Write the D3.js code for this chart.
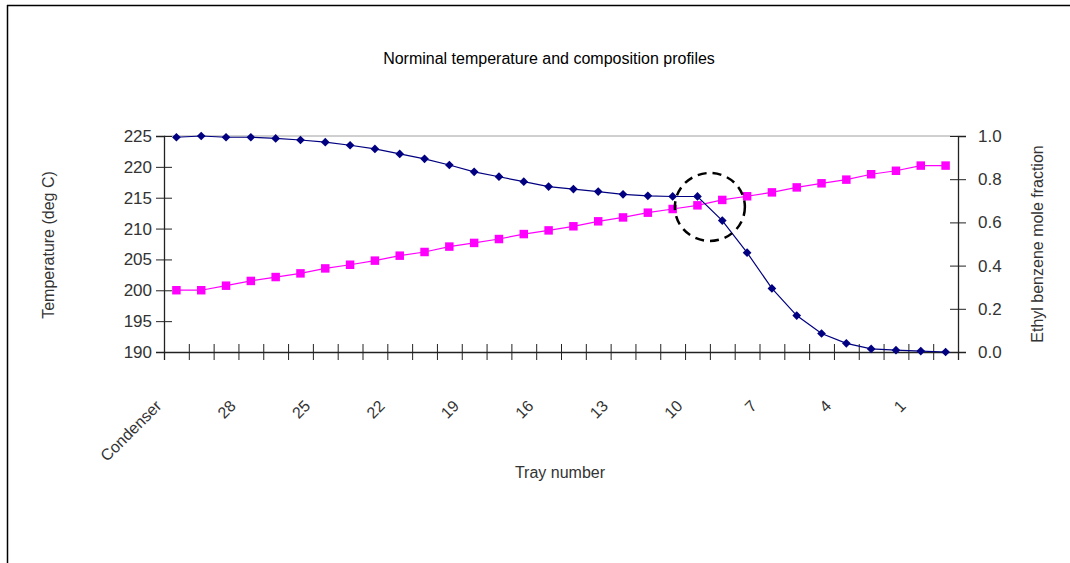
<!DOCTYPE html>
<meta charset="utf-8">
<style>
  body { margin: 0; background: #fff; }
  text { font-family: "Liberation Sans", Arial, sans-serif; }
</style>
<body>
<script src="https://cdn.jsdelivr.net/npm/d3@7"></script>
<script>

// Tray order, top of column to bottom
var trays = ["Condenser"].concat(d3.range(30, 0, -1).map(String)).concat(["Reboiler"]);

// Temperature profile (deg C)
var temperature = [224.8, 225.0, 224.8, 224.8, 224.6, 224.35, 224.0, 223.5, 222.9, 222.1,
                   221.3, 220.3, 219.2, 218.4, 217.6, 216.8, 216.4, 216.0, 215.55, 215.3,
                   215.2, 215.2, 211.3, 206.1, 200.3, 195.9, 193.0, 191.4, 190.5, 190.3,
                   190.15, 190.0];

// Ethyl benzene mole fraction
var ebFraction = [0.286, 0.286, 0.307, 0.329, 0.347, 0.364, 0.387, 0.404, 0.423, 0.446,
                  0.463, 0.488, 0.505, 0.523, 0.546, 0.563, 0.582, 0.605, 0.623, 0.645,
                  0.662, 0.679, 0.704, 0.721, 0.739, 0.762, 0.781, 0.798, 0.823, 0.839,
                  0.863, 0.863];

var tempTicks = [190, 195, 200, 205, 210, 215, 220, 225];
var fracTicks = [0, 0.2, 0.4, 0.6, 0.8, 1.0];
var labelledTrays = trays.filter(function(d, i) { return i % 3 === 0 && i < 31; });

var width = 1070, height = 563;
var plot = {left: 164, right: 958, top: 136, bottom: 352};

var svg = d3.select("body").append("svg")
    .attr("width", width)
    .attr("height", height);

// frame lines
svg.append("line").attr("x1", 7).attr("x2", 1070).attr("y1", 5.5).attr("y2", 5.5)
    .attr("stroke", "#000").attr("stroke-width", 1.5);
svg.append("line").attr("x1", 7.5).attr("x2", 7.5).attr("y1", 5).attr("y2", 563)
    .attr("stroke", "#000").attr("stroke-width", 1.5);

var x = d3.scaleBand().domain(trays).range([plot.left, plot.right]).padding(0),
    xb = d3.scaleLinear().domain([0, trays.length]).range([plot.left, plot.right]),
    yT = d3.scaleLinear().domain([190, 225]).range([plot.bottom, plot.top]),
    yF = d3.scaleLinear().domain([0, 1]).range([plot.bottom, plot.top]);

function cx(d, i) { return x(trays[i]) + x.bandwidth() / 2; }

// plot top border
svg.append("line")
    .attr("x1", plot.left).attr("x2", plot.right)
    .attr("y1", plot.top).attr("y2", plot.top)
    .attr("stroke", "#a0a0a0");

// title
svg.append("text")
    .attr("x", 549).attr("y", 64)
    .attr("text-anchor", "middle")
    .style("font-size", "16px")
    .text("Norminal temperature and composition profiles");

// left axis
var gL = svg.append("g")
    .attr("transform", "translate(" + plot.left + ",0)")
    .call(d3.axisLeft(yT).tickValues(tempTicks).tickSize(8).tickPadding(4));
gL.selectAll(".tick line").attr("x1", 8).attr("x2", -8);

// right axis
var gR = svg.append("g")
    .attr("transform", "translate(" + plot.right + ",0)")
    .call(d3.axisRight(yF).tickValues(fracTicks).tickSize(8).tickPadding(12)
      .tickFormat(d3.format(".1f")));
gR.selectAll(".tick line").attr("x1", -8).attr("x2", 8);

// bottom axis: ticks between categories
var gB = svg.append("g")
    .attr("transform", "translate(0," + plot.bottom + ")")
    .call(d3.axisBottom(xb).tickValues(d3.range(trays.length + 1)).tickSize(8).tickFormat(""));
gB.selectAll(".tick line").attr("y1", -8).attr("y2", 8);

[gL, gR, gB].forEach(function(g) {
  g.select(".domain").attr("stroke", "#222").attr("stroke-width", 1.3);
  g.selectAll(".tick line").attr("stroke", "#222");
  g.selectAll("text").style("font-size", "17px").attr("fill", "#333")
      .style("font-family", "'Liberation Sans', Arial, sans-serif");
});

// rotated category labels
svg.append("g").selectAll("text")
    .data(labelledTrays)
  .enter().append("text")
    .attr("text-anchor", "end")
    .attr("fill", "#333")
    .style("font-size", "16px")
    .attr("transform", function(d) {
      return "translate(" + (x(d) + x.bandwidth() / 2 - 14) + ",407) rotate(-45)";
    })
    .text(function(d) { return d; });

// axis titles
svg.append("text")
    .attr("transform", "translate(48,245) rotate(-90)")
    .attr("text-anchor", "middle").attr("dominant-baseline", "central")
    .attr("fill", "#333").style("font-size", "16px")
    .text("Temperature (deg C)");
svg.append("text")
    .attr("transform", "translate(1037,244) rotate(-90)")
    .attr("text-anchor", "middle").attr("dominant-baseline", "central")
    .attr("fill", "#333").style("font-size", "16px")
    .text("Ethyl benzene mole fraction");
svg.append("text")
    .attr("x", 560).attr("y", 478)
    .attr("text-anchor", "middle")
    .attr("fill", "#333").style("font-size", "16px")
    .text("Tray number");

// composition line
var lineF = d3.line().x(cx).y(function(d) { return yF(d); });
svg.append("path").datum(ebFraction)
    .attr("d", lineF).attr("fill", "none").attr("stroke", "#ff00ff").attr("stroke-width", 1.2);
svg.append("g").selectAll("path")
    .data(ebFraction)
  .enter().append("path")
    .attr("d", d3.symbol().type(d3.symbolSquare).size(72))
    .attr("transform", function(d, i) { return "translate(" + cx(d, i) + "," + yF(d) + ")"; })
    .attr("fill", "#ff00ff");

// temperature line
var lineT = d3.line().x(cx).y(function(d) { return yT(d); });
svg.append("path").datum(temperature)
    .attr("d", lineT).attr("fill", "none").attr("stroke", "#000080").attr("stroke-width", 1.2);
svg.append("g").selectAll("path")
    .data(temperature)
  .enter().append("path")
    .attr("d", d3.symbol().type(d3.symbolSquare).size(38))
    .attr("transform", function(d, i) {
      return "translate(" + cx(d, i) + "," + yT(d) + ") rotate(45)";
    })
    .attr("fill", "#000080");

// dashed circle marking the feed tray region
svg.append("ellipse")
    .attr("cx", xb(22)).attr("cy", yT(213.5))
    .attr("rx", 35).attr("ry", 34)
    .attr("fill", "none")
    .attr("stroke", "#000")
    .attr("stroke-width", 2.5)
    .attr("stroke-dasharray", "9,6");

</script>
</body>
